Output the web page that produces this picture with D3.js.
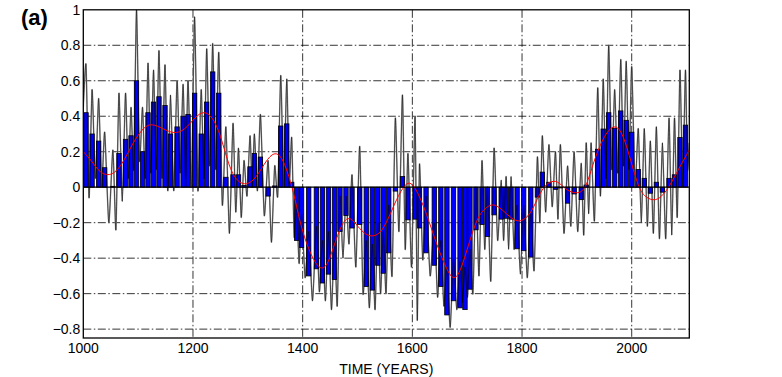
<!DOCTYPE html>
<html>
<head>
<meta charset="utf-8">
<script src="https://cdn.jsdelivr.net/npm/d3@7"></script>
<style>
body { margin: 0; background: #fff; }
svg text { font-family: "Liberation Sans", Arial, Helvetica, sans-serif; fill: #000; }
</style>
</head>
<body>
<svg id="chart" width="782" height="377"></svg>
<script>
// cycle centres (years) and the bar value for each cycle
const cycleYears = [
    1005, 1016, 1028, 1039, 1054, 1065, 1077, 1087, 1097, 1108,
    1118, 1128, 1138, 1149, 1159, 1171, 1182, 1191, 1203, 1215,
    1225, 1236, 1247, 1260, 1273, 1283, 1293, 1304, 1312, 1323,
    1337, 1349, 1360, 1371, 1380, 1389, 1398, 1411, 1425, 1436,
    1447, 1458, 1468, 1479, 1490, 1504, 1516, 1527, 1537, 1547,
    1557, 1569, 1582, 1592, 1605, 1613, 1625, 1640, 1652, 1663,
    1675, 1687, 1696, 1705, 1716, 1727, 1737, 1749, 1762, 1771,
    1780, 1791, 1803, 1816, 1828, 1837, 1849, 1861, 1870, 1883,
    1895, 1908, 1917, 1926, 1938, 1948, 1958, 1969, 1980, 1990,
    2000, 2012, 2023, 2034, 2045, 2056, 2068, 2078, 2088, 2098
];
const cycleMeans = [
    0.42, 0.30, 0.26, 0.11, 0.005, 0.19, 0.27, 0.29, 0.60, 0.20,
    0.42, 0.48, 0.51, 0.46, 0.30, 0.34, 0.40, 0.41, 0.53, 0.30,
    0.48, 0.65, 0.53, 0.056, 0.07, 0.07, 0.01, 0.115, 0.19, 0.17,
    -0.05, 0.007, 0.345, 0.357, 0.028, -0.30, -0.34, -0.50, -0.46, -0.54,
    -0.49, -0.52, -0.25, -0.16, -0.23, -0.21, -0.56, -0.58, -0.44, -0.485,
    -0.37, -0.022, 0.06, -0.184, -0.18, -0.23, -0.37, -0.44, -0.56, -0.72,
    -0.64, -0.68, -0.69, -0.575, -0.24, -0.21, -0.278, -0.156, -0.18, -0.175,
    -0.18, -0.347, -0.358, -0.394, -0.056, 0.085, 0.028, -0.012, -0.004, -0.09,
    -0.038, -0.07, 0.012, 0.0, 0.214, 0.328, 0.42, 0.332, 0.43, 0.377,
    0.31, 0.10, 0.05, -0.034, 0.028, -0.028, 0.05, 0.07, 0.28, 0.35
];
// annual curve: maximum near each cycle centre, minimum after it
const cyclePeaks = [
    0.69, 0.55, 0.50, 0.31, 0.21, 0.53, 0.53, 0.45, 1.0, 0.45,
    0.70, 0.66, 0.77, 0.69, 0.52, 0.60, 0.58, 0.60, 0.96, 0.55,
    0.78, 0.81, 0.76, 0.34, 0.36, 0.22, 0.15, 0.29, 0.30, 0.41,
    0.15, 0.12, 0.63, 0.61, 0.28, -0.10, -0.15, -0.25, -0.22, -0.30,
    -0.25, -0.30, -0.05, -0.05, 0.07, 0.23, -0.30, -0.32, -0.20, -0.25,
    -0.10, 0.39, 0.52, 0.19, 0.40, 0.13, -0.05, -0.20, -0.30, -0.45,
    -0.40, -0.42, -0.45, -0.35, 0.0, 0.15, 0.0, 0.22, 0.04, 0.06,
    0.06, -0.10, -0.10, -0.15, 0.17, 0.29, 0.24, 0.20, 0.24, 0.12,
    0.20, 0.135, 0.25, 0.25, 0.56, 0.61, 0.80, 0.55, 0.72, 0.71,
    0.68, 0.33, 0.33, 0.26, 0.34, 0.25, 0.39, 0.39, 0.66, 0.66
];
const cycleTroughs = [
    -0.06, 0.05, 0.0, -0.20, -0.24, -0.08, 0.05, 0.10, 0.15, 0.05,
    0.08, 0.10, 0.05, -0.02, -0.02, 0.08, 0.05, 0.0, -0.02, 0.05,
    0.12, 0.10, -0.10, -0.26, -0.14, -0.17, -0.05, 0.0, -0.02, -0.16,
    -0.31, -0.05, 0.0, 0.02, -0.28, -0.43, -0.51, -0.64, -0.59, -0.64,
    -0.69, -0.67, -0.40, -0.32, -0.45, -0.60, -0.68, -0.69, -0.60, -0.60,
    -0.50, -0.25, -0.35, -0.45, -0.75, -0.41, -0.50, -0.62, -0.67, -0.79,
    -0.69, -0.65, -0.62, -0.60, -0.50, -0.35, -0.53, -0.30, -0.30, -0.35,
    -0.35, -0.49, -0.51, -0.47, -0.20, -0.14, -0.11, -0.18, -0.26, -0.22,
    -0.25, -0.27, -0.15, -0.19, -0.05, 0.05, 0.10, 0.08, 0.12, 0.10,
    0.0, -0.20, -0.22, -0.26, -0.29, -0.29, -0.27, -0.17, 0.0, 0.10
];
const lineStart = [1000, 0.45];
const lineEnd = [2105, 0.25];

// smoothed (red) curve
const smoothYears = [
    1000, 1015, 1030, 1050, 1070, 1090, 1110, 1125, 1145, 1165,
    1185, 1205, 1220, 1235, 1250, 1265, 1280, 1298, 1315, 1335,
    1350, 1362, 1372, 1383, 1395, 1410, 1430, 1445, 1460, 1475,
    1488, 1500, 1515, 1530, 1545, 1560, 1575, 1590, 1600, 1610,
    1625, 1645, 1663, 1680, 1700, 1718, 1732, 1750, 1780, 1798,
    1816, 1827, 1839, 1850, 1864, 1880, 1895, 1907, 1917, 1930,
    1950, 1973, 1990, 2011, 2025, 2044, 2058, 2068, 2085, 2105
];
const smoothValues = [
    0.20, 0.15, 0.08, 0.06, 0.12, 0.25, 0.34, 0.36, 0.33, 0.30,
    0.32, 0.40, 0.43, 0.40, 0.30, 0.12, 0.03, 0.01, 0.05, 0.16,
    0.20, 0.17, 0.09, -0.02, -0.20, -0.35, -0.47, -0.45, -0.30, -0.18,
    -0.17, -0.22, -0.27, -0.28, -0.25, -0.15, -0.04, 0.03, 0.02, -0.03,
    -0.14, -0.33, -0.47, -0.55, -0.35, -0.17, -0.12, -0.08, -0.18, -0.20,
    -0.15, -0.07, 0.0, 0.03, 0.04, -0.015, -0.034, -0.03, 0.0, 0.14,
    0.30, 0.37, 0.25, 0.0, -0.06, -0.08, -0.04, 0.0, 0.10, 0.21
];

const yTicks = [-0.8, -0.6, -0.4, -0.2, 0, 0.2, 0.4, 0.6, 0.8, 1];
const xTicks = [1000, 1200, 1400, 1600, 1800, 2000];
const barYears = 8;

function drawChart() {
    var plotLeft = 83.3, plotRight = 689.3, plotTop = 9.8, plotBottom = 338;

    var x = d3.scaleLinear().domain([1000, 2105]).range([plotLeft, plotRight]);
    var y = d3.scaleLinear().domain([-0.85, 1]).range([plotBottom, plotTop]);

    var svg = d3.select('#chart');

    svg.append('defs').append('clipPath')
        .attr('id', 'plot-clip')
        .append('rect')
        .attr('x', plotLeft).attr('y', plotTop)
        .attr('width', plotRight - plotLeft).attr('height', plotBottom - plotTop);

    // dash-dot grid
    svg.append('g').selectAll('line')
        .data(yTicks.filter(d => d !== 0 && d !== 1))
        .enter().append('line')
        .attr('x1', plotLeft).attr('x2', plotRight)
        .attr('y1', d => y(d)).attr('y2', d => y(d))
        .attr('stroke', '#000').attr('stroke-width', 0.8)
        .attr('stroke-dasharray', '8,2.5,1.5,2.5');

    svg.append('g').selectAll('line')
        .data(xTicks.filter(d => d !== 1000))
        .enter().append('line')
        .attr('x1', d => x(d)).attr('x2', d => x(d))
        .attr('y1', plotTop).attr('y2', plotBottom)
        .attr('stroke', '#000').attr('stroke-width', 0.8)
        .attr('stroke-dasharray', '8,2.5,1.5,2.5');

    var plot = svg.append('g').attr('clip-path', 'url(#plot-clip)');

    // annual curve
    var linePts = [lineStart];
    cycleYears.forEach(function (yr, i) {
        linePts.push([yr, cyclePeaks[i]]);
        var next = i < cycleYears.length - 1 ? cycleYears[i + 1] : lineEnd[0];
        linePts.push([(yr + next) / 2, cycleTroughs[i]]);
    });
    linePts.push(lineEnd);

    var annual = d3.line()
        .x(d => x(d[0]))
        .y(d => y(d[1]))
        .curve(d3.curveCardinal.tension(0.4));

    // grey body of the curve sits behind the bars
    plot.append('path')
        .attr('d', annual(linePts))
        .attr('fill', 'none')
        .attr('stroke', '#9c9c9c')
        .attr('stroke-width', 1.5);

    // bars
    plot.selectAll('rect.bar')
        .data(cycleYears)
        .enter().append('rect')
        .attr('class', 'bar')
        .attr('x', d => x(d - barYears / 2))
        .attr('width', x(1000 + barYears) - x(1000))
        .attr('y', (d, i) => y(Math.max(0, cycleMeans[i])))
        .attr('height', (d, i) => Math.abs(y(cycleMeans[i]) - y(0)))
        .attr('fill', '#0000ff')
        .attr('stroke', '#000')
        .attr('stroke-width', 0.8);

    // thin black core drawn over the bars
    plot.append('path')
        .attr('d', annual(linePts))
        .attr('fill', 'none')
        .attr('stroke', '#000')
        .attr('stroke-width', 0.55);

    // smoothed curve
    var smooth = d3.line()
        .x((d, i) => x(smoothYears[i]))
        .y(d => y(d))
        .curve(d3.curveBasis);

    plot.append('path')
        .attr('d', smooth(smoothValues))
        .attr('fill', 'none')
        .attr('stroke', '#ff0000')
        .attr('stroke-width', 1);

    // zero line and frame
    svg.append('line')
        .attr('x1', plotLeft).attr('x2', plotRight)
        .attr('y1', y(0)).attr('y2', y(0))
        .attr('stroke', '#000').attr('stroke-width', 1.2);

    svg.append('rect')
        .attr('x', plotLeft).attr('y', plotTop)
        .attr('width', plotRight - plotLeft).attr('height', plotBottom - plotTop)
        .attr('fill', 'none')
        .attr('stroke', '#000').attr('stroke-width', 1.3);

    // tick labels
    var fmt = d3.format('~g');

    svg.append('g').selectAll('text')
        .data(yTicks)
        .enter().append('text')
        .attr('x', plotLeft - 3)
        .attr('y', d => y(d))
        .attr('dy', '0.36em')
        .attr('text-anchor', 'end')
        .style('font-size', '14px')
        .text(d => fmt(d));

    svg.append('g').selectAll('text')
        .data(xTicks)
        .enter().append('text')
        .attr('x', d => x(d))
        .attr('y', 352.7)
        .attr('text-anchor', 'middle')
        .style('font-size', '14px')
        .text(d => d);

    svg.append('text')
        .attr('x', (plotLeft + plotRight) / 2)
        .attr('y', 374)
        .attr('text-anchor', 'middle')
        .style('font-size', '14px')
        .text('TIME (YEARS)');

    svg.append('text')
        .attr('x', 21)
        .attr('y', 25)
        .style('font-size', '22px')
        .style('font-weight', 'bold')
        .text('(a)');
}

drawChart();
</script>
</body>
</html>
